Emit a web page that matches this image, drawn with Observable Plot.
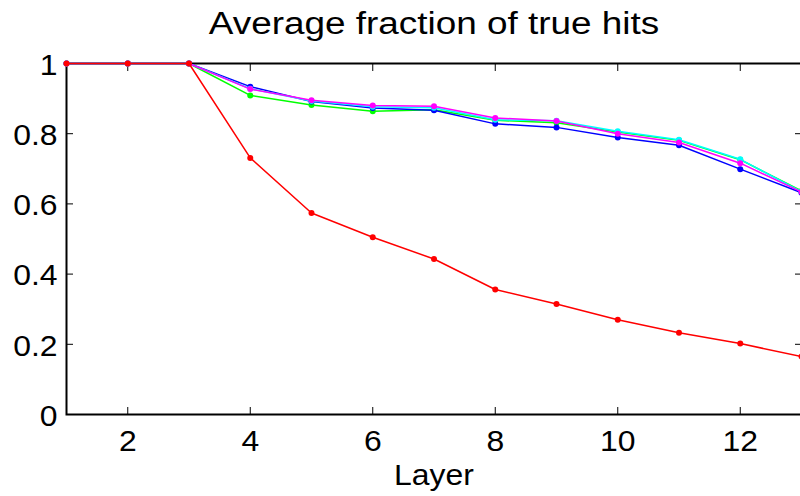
<!DOCTYPE html>
<html>
<head>
<meta charset="utf-8">
<script src="https://cdn.jsdelivr.net/npm/d3@7"></script>
<script src="https://cdn.jsdelivr.net/npm/@observablehq/plot@0.6"></script>
<style>
  html, body { margin: 0; padding: 0; background: #fff; }
  svg { display: block; }
</style>
</head>
<body>
<div id="chart"></div>
<script>
const layers = [1, 2, 3, 4, 5, 6, 7, 8, 9, 10, 11, 12, 13];
const greenSeries   = [1, 1, 1, 0.909, 0.882, 0.864, 0.868, 0.838, 0.831, 0.805, 0.781, 0.726, 0.637];
const blueSeries    = [1, 1, 1, 0.934, 0.892, 0.873, 0.867, 0.828, 0.818, 0.789, 0.767, 0.699, 0.632];
const cyanSeries    = [1, 1, 1, 0.928, 0.893, 0.877, 0.874, 0.840, 0.837, 0.807, 0.783, 0.727, 0.635];
const magentaSeries = [1, 1, 1, 0.927, 0.895, 0.880, 0.878, 0.845, 0.836, 0.800, 0.775, 0.716, 0.634];
const redSeries     = [1, 1, 1, 0.731, 0.574, 0.505, 0.443, 0.356, 0.315, 0.270, 0.233, 0.202, 0.165];
const seriesNames  = ["green", "blue", "cyan", "magenta", "red"];
const seriesColors = ["#00ff00", "#0000ff", "#00ffff", "#ff00ff", "#ff0000"];
const xTicks = [2, 4, 6, 8, 10, 12];
const yTicks = [0, 0.2, 0.4, 0.6, 0.8, 1];
const titleText = "Average fraction of true hits";
const xLabel = "Layer";

const allSeries = [greenSeries, blueSeries, cyanSeries, magentaSeries, redSeries];
const rows = [];
allSeries.forEach((vals, i) => {
  vals.forEach((v, j) => rows.push({series: seriesNames[i], layer: layers[j], value: v}));
});

const font = "Liberation Sans, Arial, Helvetica, sans-serif";

const lineMarks = seriesNames.flatMap((name, i) => {
  const d = rows.filter(r => r.series === name);
  return [
    Plot.line(d, {x: "layer", y: "value", stroke: seriesColors[i], strokeWidth: 1.5}),
    Plot.dot(d, {x: "layer", y: "value", fill: seriesColors[i], r: 3})
  ];
});

const chart = Plot.plot({
  width: 800,
  height: 496,
  marginLeft: 66,
  marginRight: -1,
  marginTop: 63,
  marginBottom: 82,
  style: {fontFamily: font, background: "#fff", color: "#000"},
  x: {domain: [1, 13]},
  y: {domain: [0, 1]},
  marks: [
    Plot.axisX({ticks: xTicks, anchor: "bottom", tickSize: -7, tickFormat: () => "", label: null, strokeWidth: 1}),
    Plot.axisX({ticks: xTicks, anchor: "top", tickSize: -7, tickFormat: () => "", label: null, strokeWidth: 1}),
    Plot.axisY({ticks: yTicks, anchor: "left", tickSize: -7, tickFormat: () => "", label: null, strokeWidth: 1}),
    Plot.axisY({ticks: yTicks, anchor: "right", tickSize: -7, tickFormat: () => "", label: null, strokeWidth: 1}),
    Plot.axisX({ticks: xTicks, anchor: "bottom", tickSize: 0, tickPadding: 16, fontSize: 29, label: null, tickFormat: d3.format("d")}),
    Plot.axisY({ticks: yTicks, anchor: "left", tickSize: 0, tickPadding: 9, dy: 2, fontSize: 29, label: null, tickFormat: d => String(d)}),
    Plot.frame({stroke: "#000", strokeWidth: 2}),
    ...lineMarks,
    Plot.text([titleText], {frameAnchor: "top", lineAnchor: "bottom", dy: -30, fontSize: 31, fill: "#000"}),
    Plot.text([xLabel], {frameAnchor: "bottom", lineAnchor: "bottom", dy: 70, fontSize: 29, fill: "#000"})
  ]
});
document.getElementById("chart").appendChild(chart);

// horizontal stretch of the glyphs to mimic the reference's wider rendering
d3.select(chart).selectAll("text").each(function() {
  const t = this.textContent;
  if (!t) return;
  const len = this.getComputedTextLength();
  if (!len) return;
  const k = t === titleText ? 1.19 : 1.1;
  this.setAttribute("textLength", len * k);
  this.setAttribute("lengthAdjust", "spacingAndGlyphs");
});
</script>
</body>
</html>
